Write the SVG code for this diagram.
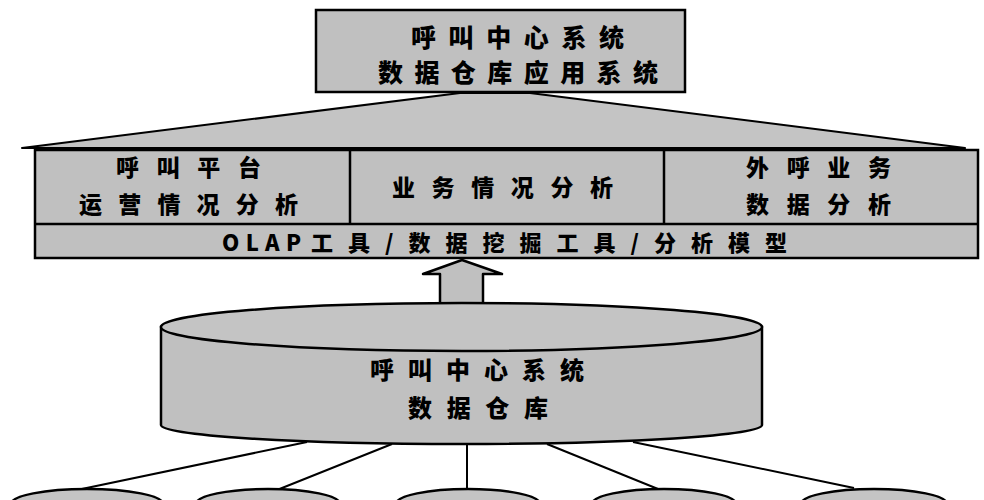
<svg xmlns="http://www.w3.org/2000/svg" width="984" height="500" viewBox="0 0 984 500">
<style>
.box{fill:#c0c0c0;stroke:#000;stroke-width:2.5}
.div{stroke:#000;stroke-width:2.5;fill:none}
.t{font-family:"Noto Sans CJK SC","Liberation Sans",sans-serif;font-weight:900;fill:#000}
.ln{stroke:#000;stroke-width:2;fill:none}
</style>
<rect width="984" height="500" fill="#fff"/>
<g id="roof">
<polygon points="22,148 460,93 530,93 965,148" fill="#c4c4c4" stroke="#000" stroke-width="2" stroke-linejoin="round"/>
</g>
<g id="app-system">
<rect class="box" x="316" y="10" width="369" height="82"/>
<text class="t" x="411" y="47" font-size="25" textLength="213" lengthAdjust="spacing">呼叫中心系统</text>
<text class="t" x="378" y="82" font-size="25" textLength="280" lengthAdjust="spacing">数据仓库应用系统</text>
</g>
<g id="analysis-layer">
<rect class="box" x="35" y="150" width="943" height="108" stroke-width="3"/>
<line class="div" x1="35" y1="224" x2="978" y2="224"/>
<line class="div" x1="350" y1="150" x2="350" y2="224"/>
<line class="div" x1="664" y1="150" x2="664" y2="224"/>
</g>
<g id="platform-analysis">
<text class="t" x="116" y="176" font-size="23" textLength="145" lengthAdjust="spacing">呼叫平台</text>
<text class="t" x="79" y="213" font-size="23" textLength="219" lengthAdjust="spacing">运营情况分析</text>
</g>
<g id="business-analysis">
<text class="t" x="392" y="196" font-size="23" textLength="221" lengthAdjust="spacing">业务情况分析</text>
</g>
<g id="outbound-analysis">
<text class="t" x="746" y="176" font-size="23" textLength="145" lengthAdjust="spacing">外呼业务</text>
<text class="t" x="746" y="213" font-size="23" textLength="145" lengthAdjust="spacing">数据分析</text>
</g>
<g id="tools">
<text class="t" x="222" y="251" font-size="22" textLength="79" lengthAdjust="spacing">OLAP</text>
<text class="t" x="311" y="251" font-size="22" textLength="476" lengthAdjust="spacing">工具/数据挖掘工具/分析模型</text>
</g>
<g id="connectors">
<polygon points="462,260 502,274 483,274 483,306 440,306 440,274 423,274" fill="#c0c0c0" stroke="#000" stroke-width="2.5" stroke-linejoin="round"/>
<line class="ln" x1="307" y1="442" x2="77" y2="490"/>
<line class="ln" x1="392" y1="444" x2="277" y2="490"/>
<line class="ln" x1="467" y1="444" x2="467" y2="490"/>
<line class="ln" x1="547" y1="444" x2="658" y2="489"/>
<line class="ln" x1="633" y1="442" x2="854" y2="488"/>
</g>
<g id="data-warehouse">
<path d="M161,327 L161,425 A300.5,19 0 0 0 762,425 L762,327 Z" fill="#c0c0c0" stroke="#000" stroke-width="2.5"/>
<ellipse cx="461.5" cy="327" rx="300.5" ry="24" fill="#c4c4c4" stroke="#000" stroke-width="2.5"/>
<text class="t" x="370" y="379" font-size="24" textLength="214" lengthAdjust="spacing">呼叫中心系统</text>
<text class="t" x="408" y="417" font-size="24" textLength="140" lengthAdjust="spacing">数据仓库</text>
</g>
<g id="source-1"><ellipse cx="87" cy="504" rx="76" ry="15" fill="#c4c4c4" stroke="#000" stroke-width="2.5"/></g>
<g id="source-2"><ellipse cx="268" cy="504" rx="72" ry="15" fill="#c4c4c4" stroke="#000" stroke-width="2.5"/></g>
<g id="source-3"><ellipse cx="468" cy="504" rx="72" ry="15" fill="#c4c4c4" stroke="#000" stroke-width="2.5"/></g>
<g id="source-4"><ellipse cx="664" cy="504" rx="72" ry="15" fill="#c4c4c4" stroke="#000" stroke-width="2.5"/></g>
<g id="source-5"><ellipse cx="874" cy="504" rx="73" ry="15" fill="#c4c4c4" stroke="#000" stroke-width="2.5"/></g>
</svg>
